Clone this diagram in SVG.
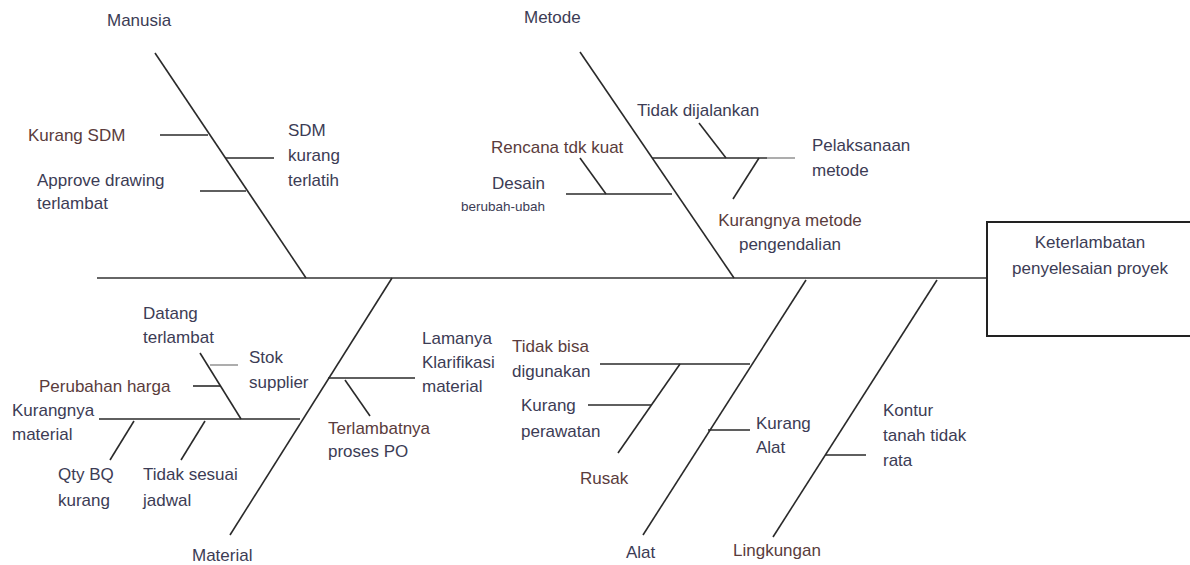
<svg xmlns="http://www.w3.org/2000/svg" width="1190" height="565" viewBox="0 0 1190 565">
<style>
text{font-family:"Liberation Sans",Arial,sans-serif;font-size:17px;fill:#3c3c55}
.b{fill:#5a3c3c}
.sm{font-size:13.5px}
.ln{stroke:#2a2a2a;stroke-width:1.6;fill:none}
.lt{stroke:#999;stroke-width:1.6;fill:none}
.sp{stroke:#666;stroke-width:2;fill:none}
</style>
<rect width="1190" height="565" fill="#fff"/>
<g id="connectors">
<line class="sp" x1="97" y1="278" x2="988" y2="278"/>
<line class="ln" x1="155" y1="53" x2="306" y2="278"/>
<line class="ln" x1="160" y1="135" x2="208" y2="135"/>
<line class="ln" x1="225" y1="158" x2="274" y2="158"/>
<line class="ln" x1="200" y1="191" x2="246" y2="191"/>
<line class="ln" x1="580" y1="52" x2="734" y2="278"/>
<line class="ln" x1="652" y1="158" x2="767" y2="158"/>
<line class="lt" x1="767" y1="158" x2="795" y2="158"/>
<line class="ln" x1="699" y1="123" x2="726" y2="158"/>
<line class="ln" x1="759" y1="158" x2="733" y2="199"/>
<line class="ln" x1="566" y1="194" x2="672" y2="194"/>
<line class="ln" x1="580" y1="158" x2="606" y2="194"/>
<line class="ln" x1="392" y1="278" x2="230" y2="535"/>
<line class="ln" x1="99" y1="419" x2="300" y2="419"/>
<line class="ln" x1="200" y1="353" x2="241" y2="419"/>
<line class="lt" x1="210" y1="365" x2="238" y2="365"/>
<line class="ln" x1="193" y1="386" x2="220" y2="386"/>
<line class="ln" x1="134" y1="421" x2="110" y2="460"/>
<line class="ln" x1="205" y1="421" x2="181" y2="460"/>
<line class="ln" x1="328" y1="378" x2="415" y2="378"/>
<line class="ln" x1="345" y1="380" x2="370" y2="416"/>
<line class="ln" x1="806" y1="280" x2="643" y2="535"/>
<line class="ln" x1="600" y1="364" x2="750" y2="364"/>
<line class="ln" x1="680" y1="364" x2="618" y2="453"/>
<line class="ln" x1="588" y1="405" x2="651" y2="405"/>
<line class="ln" x1="708" y1="430" x2="750" y2="430"/>
<line class="ln" x1="937" y1="280" x2="773" y2="537"/>
<line class="ln" x1="825" y1="455" x2="866" y2="455"/>
</g>
<g id="effect">
<rect x="987" y="222" width="210" height="114" fill="#fff" stroke="#222" stroke-width="2"/>
<text x="1090" y="248" text-anchor="middle">Keterlambatan</text>
<text x="1090" y="274" text-anchor="middle">penyelesaian proyek</text>
</g>
<g id="manusia">
<text x="107" y="26">Manusia</text>
<text class="b" x="28" y="141">Kurang SDM</text>
<text x="288" y="136">SDM</text>
<text x="288" y="161">kurang</text>
<text x="288" y="186">terlatih</text>
<text x="37" y="186">Approve drawing</text>
<text x="37" y="209">terlambat</text>
</g>
<g id="metode">
<text x="524" y="23">Metode</text>
<text x="637" y="116">Tidak dijalankan</text>
<text x="812" y="151">Pelaksanaan</text>
<text x="812" y="176">metode</text>
<text x="790" y="226" text-anchor="middle" class="b">Kurangnya metode</text>
<text x="790" y="250" text-anchor="middle">pengendalian</text>
<text class="b" x="491" y="153">Rencana tdk kuat</text>
<text x="545" y="189" text-anchor="end">Desain</text>
<text class="sm" x="545" y="211" text-anchor="end">berubah-ubah</text>
</g>
<g id="material">
<text x="192" y="561">Material</text>
<text x="12" y="416">Kurangnya</text>
<text x="12" y="440">material</text>
<text x="143" y="319">Datang</text>
<text x="143" y="343">terlambat</text>
<text x="249" y="363">Stok</text>
<text x="249" y="388">supplier</text>
<text class="b" x="39" y="392">Perubahan harga</text>
<text x="58" y="480">Qty BQ</text>
<text x="58" y="506">kurang</text>
<text x="143" y="480">Tidak sesuai</text>
<text x="143" y="506">jadwal</text>
<text x="422" y="344">Lamanya</text>
<text x="422" y="368">Klarifikasi</text>
<text x="422" y="392">material</text>
<text class="b" x="328" y="434">Terlambatnya</text>
<text x="328" y="457">proses PO</text>
</g>
<g id="alat">
<text x="626" y="558">Alat</text>
<text class="b" x="512" y="352">Tidak bisa</text>
<text x="512" y="377">digunakan</text>
<text x="521" y="411">Kurang</text>
<text x="521" y="437">perawatan</text>
<text class="b" x="580" y="484">Rusak</text>
<text x="756" y="429">Kurang</text>
<text x="756" y="453">Alat</text>
</g>
<g id="lingkungan">
<text class="b" x="733" y="556">Lingkungan</text>
<text x="883" y="416">Kontur</text>
<text x="883" y="441">tanah tidak</text>
<text x="883" y="466">rata</text>
</g>
</svg>
